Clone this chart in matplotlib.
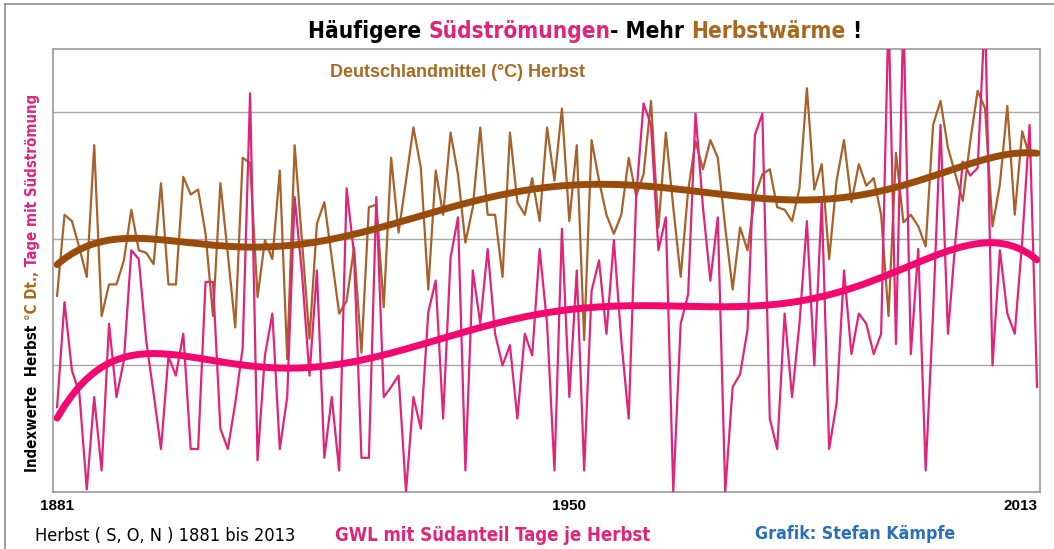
import numpy as np
import matplotlib
matplotlib.use("Agg")
import matplotlib.pyplot as plt
from matplotlib import font_manager

# ---------------- data (index units, gridlines at 1, 2, 3) ----------------
years = list(range(1881, 2014))

temp_autumn = [
    1.55, 2.19, 2.14, 1.93, 1.70, 2.74, 1.39, 1.64, 1.64, 1.83,
    2.23, 1.91, 1.89, 1.80, 2.44, 1.64, 1.64, 2.49, 2.35, 2.39,
    2.04, 1.39, 2.44, 1.88, 1.30, 2.64, 2.60, 1.54, 1.99, 1.84,
    2.54, 1.05, 2.74, 1.98, 1.21, 2.12, 2.29, 1.85, 1.41, 1.51,
    1.93, 1.10, 2.25, 2.27, 1.46, 2.64, 2.05, 2.46, 2.88, 2.56,
    1.60, 2.54, 2.19, 2.84, 2.51, 1.97, 2.25, 2.88, 2.19, 2.19,
    1.70, 2.84, 2.29, 2.19, 2.48, 2.14, 2.88, 2.46, 3.03, 2.14,
    2.74, 1.20, 2.78, 2.46, 2.19, 2.04, 2.19, 2.64, 2.34, 2.51,
    3.09, 2.09, 2.84, 2.25, 1.70, 2.38, 2.77, 2.55, 2.78, 2.64,
    2.09, 1.60, 2.09, 1.91, 2.34, 2.51, 2.55, 2.25, 2.23, 2.14,
    2.40, 3.19, 2.39, 2.59, 1.84, 2.46, 2.78, 2.29, 2.59, 2.42,
    2.48, 2.19, 1.39, 2.68, 2.13, 2.19, 2.10, 1.94, 2.90, 3.09,
    2.72, 2.51, 2.30, 2.77, 3.17, 3.03, 2.10, 2.43, 3.05, 2.19,
    2.85, 2.65, 2.69,
]

south_days = [
    0.67, 1.50, 0.96, 0.78, 0.02, 0.75, 0.17, 1.33, 0.75, 1.04,
    1.91, 1.84, 1.20, 0.78, 0.34, 1.07, 0.92, 1.25, 0.34, 0.34,
    1.66, 1.66, 0.50, 0.34, 0.70, 1.14, 3.15, 0.25, 1.08, 1.41,
    0.34, 0.75, 2.33, 1.72, 0.92, 1.75, 0.27, 0.75, 0.17, 2.40,
    1.88, 0.27, 0.27, 2.33, 0.75, 0.83, 0.92, 0.00, 0.75, 0.50,
    1.42, 1.67, 0.58, 1.85, 2.17, 0.17, 1.75, 1.33, 1.92, 1.25,
    1.00, 1.16, 0.58, 1.25, 1.08, 1.92, 1.33, 0.17, 2.08, 0.75,
    1.75, 0.17, 1.59, 1.83, 1.25, 1.99, 1.20, 0.58, 2.33, 3.07,
    2.90, 1.91, 2.17, 0.00, 1.33, 1.56, 2.99, 2.25, 1.67, 2.17,
    0.00, 0.83, 0.93, 1.28, 2.82, 2.99, 0.58, 0.34, 1.41, 0.75,
    1.33, 2.14, 1.00, 2.30, 0.34, 0.70, 1.75, 1.09, 1.41, 1.33,
    1.09, 1.25, 3.80, 1.17, 3.80, 1.09, 1.92, 0.17, 1.41, 2.90,
    1.25, 1.98, 2.61, 2.50, 2.56, 3.80, 1.00, 1.91, 1.41, 1.25,
    1.98, 2.90, 0.83,
]

tick_years = [1881, 1950, 2013]
tick_labels = ["1881", "1950", "2013"]

# ---------------- styling ----------------
BROWN = "#a6622a"
BROWN_T = "#9a4c0c"
PINK = "#e0247a"
PINK_T = "#f2086e"
BLUE = "#2a70b8"
LBROWN = "#a8691e"

ARIAL = "Liberation Sans"
COND = dict(family="DejaVu Sans", fontstretch="condensed")

W, H = 1054, 549
fig = plt.figure(figsize=(W / 100, H / 100), dpi=100)
fig.patch.set_facecolor("white")

L, R, T, B = 53, 1040, 49, 492
ax = fig.add_axes([L / W, 1 - B / H, (R - L) / W, (B - T) / H])

x = np.array(years, dtype=float)
tb = np.array(temp_autumn)
sp = np.array(south_days)

ax.plot(x, tb, color=BROWN, lw=1.6, zorder=2)
ax.plot(x, sp, color=PINK, lw=1.6, zorder=3)

tt = (x - 1947.0) / 66.0
ax.plot(x, np.polyval(np.polyfit(tt, tb, 6), tt), color=BROWN_T, lw=5, zorder=4,
        solid_capstyle="round")
ax.plot(x, np.polyval(np.polyfit(tt, sp, 6), tt), color=PINK_T, lw=5, zorder=5,
        solid_capstyle="round")

ax.set_xlim(1881 - 0.55, 2013 + 0.4)
ax.set_ylim(0, 3.5)
ax.set_yticks([1, 2, 3])
ax.set_yticklabels([])
ax.tick_params(axis="y", length=0)
ax.grid(axis="y", color="#a8a8a8", lw=1.0)
ax.set_axisbelow(True)
for s in ax.spines.values():
    s.set_color("#9a9a9a")
    s.set_linewidth(1.2)

ax.set_xticks(tick_years)
ax.set_xticklabels(tick_labels, fontsize=11, fontweight="bold", family=ARIAL)
ax.tick_params(axis="x", length=0, pad=5)
ax.get_xticklabels()[-1].set_ha("right")

renderer = fig.canvas.get_renderer()


def tw(s, **kw):
    t = fig.text(0, 0, s + "|", **kw)
    w1 = t.get_window_extent(renderer).width
    t.set_text("|")
    w2 = t.get_window_extent(renderer).width
    t.remove()
    return w1 - w2


def fit(parts, target, **kw):
    s = "".join(p for p, _ in parts)
    return 10.0 * target / tw(s, fontsize=10, **kw)


def rich(xp, yp, parts, target, ha="left", vertical=False, **kw):
    size = fit(parts, target, **kw)
    kw["fontsize"] = size
    full = "".join(p for p, _ in parts)
    total = tw(full, **kw)
    acc = ""
    for s, c in parts:
        off = tw(acc, **kw) if acc else 0.0
        if not vertical:
            start = xp - total / 2 if ha == "center" else xp
            fig.text((start + off) / W, 1 - yp / H, s, color=c, ha="left",
                     va="baseline", **kw)
        else:
            start = yp + total / 2  # bottom (pixels from top)
            fig.text(xp / W, (H - start + off) / H, s, color=c, rotation=90,
                     rotation_mode="anchor", ha="left", va="baseline", **kw)
        acc += s


rich(585, 38, [("Häufigere ", "black"), ("Südströmungen", PINK), ("- Mehr ", "black"),
               ("Herbstwärme", LBROWN), (" !", "black")], 552, ha="center",
     fontweight="bold", **COND)

rich(457, 77, [("Deutschlandmittel (°C) Herbst", LBROWN)], 255, ha="center",
     family=ARIAL, fontweight="bold")

rich(37, 283, [("Indexwerte  Herbst ", "black"), ("°C Dt.,", LBROWN),
               (" Tage mit Südströmung", PINK)], 375, vertical=True,
     fontweight="bold", **COND)

rich(35, 541, [("Herbst ( S, O, N ) 1881 bis 2013", "black")], 260, **COND)
rich(335, 541, [("GWL mit Südanteil Tage je Herbst", PINK)], 315, fontweight="bold",
     **COND)
rich(755, 539, [("Grafik: Stefan Kämpfe", BLUE)], 200, fontweight="bold", **COND)

# outer frame lines
fig.add_artist(plt.Line2D([5 / W, 5 / W], [0, 1 - 4 / H], transform=fig.transFigure,
                          color="#8c8c8c", lw=1.2))
fig.add_artist(plt.Line2D([5 / W, 1], [1 - 4 / H, 1 - 4 / H], transform=fig.transFigure,
                          color="#8c8c8c", lw=1.2))

fig.savefig("out.png", dpi=100)
